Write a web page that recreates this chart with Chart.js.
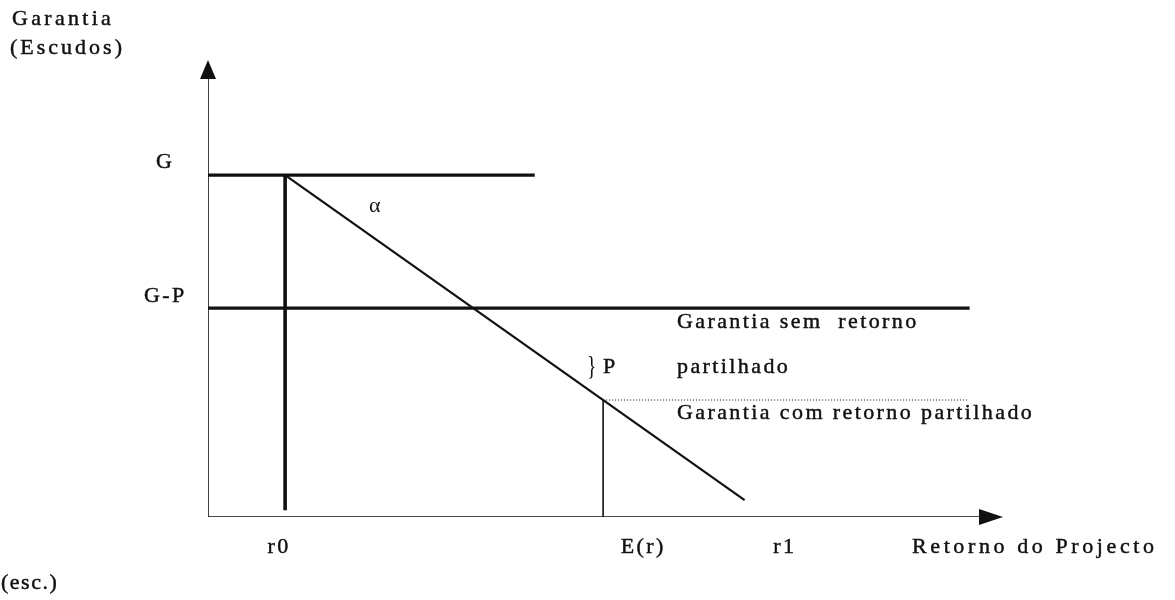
<!DOCTYPE html>
<html>
<head>
<meta charset="utf-8">
<script src="https://cdn.jsdelivr.net/npm/chart.js@4.4.0/dist/chart.umd.min.js"></script>
<style>
  html, body { margin: 0; padding: 0; background: #fff; }
  canvas { display: block; }
</style>
</head>
<body>
<canvas id="diagram" width="1175" height="600"></canvas>
<script>
// values, arbitrary units (x: retorno 0-100, y: garantia 0-100)
const r0 = 9.7;
const expectedReturn = 49.7;
const levelG = 74.8;
const levelGP = 45.7;
const levelShared = 25.6;

const xTickValues = [8.8, 54.6, 72.4];
const xTickLabels = ['r0', 'E(r)', 'r1'];
const yTickValues = [levelG, levelGP];
const yTickLabels = ['G', 'G-P'];

const lineG = [[0, levelG], [41.1, levelG]];
const lineGP = [[0, levelGP], [95.8, levelGP]];
const lineR0 = [[r0, levelG], [r0, 1.5]];
const lineSlope = [[r0, levelG], [67.5, 3.7]];
const lineEr = [[expectedReturn, 0], [expectedReturn, levelShared]];
const lineShared = [[expectedReturn, levelShared], [95.6, levelShared]];
const axisX = [[0, 0], [97, 0]];
const axisY = [[0, 0], [0, 96]];

const FONT = '22px "Liberation Serif", "Times New Roman", serif';
const INK = '#111';

function pts(arr) {
  return arr.map(p => ({ x: p[0], y: p[1] }));
}

function seg(data, width, dash) {
  return {
    data: pts(data),
    showLine: true,
    borderColor: INK,
    borderWidth: width,
    borderDash: dash || [],
    pointRadius: 0,
    borderCapStyle: 'butt'
  };
}

// letter-spaced text, a bit heavier like the scanned print
function drawSpaced(ctx, text, x, y, align, spacing) {
  if (spacing === undefined) spacing = 2.4;
  let w = 0;
  for (const ch of text) w += ctx.measureText(ch).width + spacing;
  w -= spacing;
  let cx = align === 'center' ? x - w / 2 : (align === 'right' ? x - w : x);
  for (const ch of text) {
    ctx.fillText(ch, cx, y);
    ctx.strokeText(ch, cx, y);
    cx += ctx.measureText(ch).width + spacing;
  }
}

const labelsPlugin = {
  id: 'labels',
  afterDatasetsDraw(chart) {
    const ctx = chart.ctx;
    const xs = chart.scales.x;
    const ys = chart.scales.y;
    ctx.save();
    ctx.fillStyle = INK;
    ctx.strokeStyle = INK;
    ctx.lineWidth = 0.45;

    // arrow heads
    const ox = xs.getPixelForValue(0);
    const oy = ys.getPixelForValue(0);
    const topY = ys.getPixelForValue(100);
    const endX = xs.getPixelForValue(100);
    ctx.beginPath();
    ctx.moveTo(ox, topY);
    ctx.lineTo(ox - 8, topY + 19);
    ctx.lineTo(ox + 8, topY + 19);
    ctx.closePath();
    ctx.fill();
    ctx.beginPath();
    ctx.moveTo(endX, oy);
    ctx.lineTo(endX - 24, oy - 8);
    ctx.lineTo(endX - 24, oy + 8);
    ctx.closePath();
    ctx.fill();

    ctx.font = FONT;
    ctx.textAlign = 'left';
    ctx.textBaseline = 'alphabetic';

    xTickValues.forEach((v, i) => {
      drawSpaced(ctx, xTickLabels[i], xs.getPixelForValue(v), 553, 'center');
    });
    const yOffsets = [-7, -6];
    yTickValues.forEach((v, i) => {
      drawSpaced(ctx, yTickLabels[i], 164, ys.getPixelForValue(v) + yOffsets[i], 'center');
    });

    drawSpaced(ctx, 'Garantia', 12, 25, 'left', 3.3);
    drawSpaced(ctx, '(Escudos)', 10, 54, 'left', 3);
    drawSpaced(ctx, '(esc.)', 1, 589, 'left', 1.5);
    drawSpaced(ctx, 'Retorno do Projecto', 912, 553, 'left', 3.6);
    drawSpaced(ctx, 'Garantia sem  retorno', 677, 328, 'left');
    drawSpaced(ctx, 'partilhado', 677, 373, 'left');
    drawSpaced(ctx, 'Garantia com retorno partilhado', 677, 419, 'left');
    drawSpaced(ctx, 'P', 603, 373, 'left');
    ctx.fillText('α', 369, 212);

    // tall narrow brace
    ctx.translate(587, 375);
    ctx.scale(0.7, 1);
    ctx.font = '28px "Liberation Serif", serif';
    ctx.fillText('}', 0, 0);
    ctx.restore();
  }
};

new Chart(document.getElementById('diagram'), {
  type: 'scatter',
  data: {
    datasets: [
      seg(axisX, 1.6),
      seg(axisY, 1.6),
      seg(lineG, 3.2),
      seg(lineGP, 3.2),
      seg(lineR0, 3.6),
      seg(lineSlope, 2.2),
      seg(lineEr, 1.6),
      seg(lineShared, 1, [1, 2])
    ]
  },
  options: {
    responsive: false,
    animation: false,
    devicePixelRatio: 1,
    layout: { padding: { left: 208, right: 172, top: 60, bottom: 83 } },
    scales: {
      x: { type: 'linear', min: 0, max: 100, display: false },
      y: { type: 'linear', min: 0, max: 100, display: false }
    },
    plugins: { legend: { display: false }, tooltip: { enabled: false } }
  },
  plugins: [labelsPlugin]
});
</script>
</body>
</html>
